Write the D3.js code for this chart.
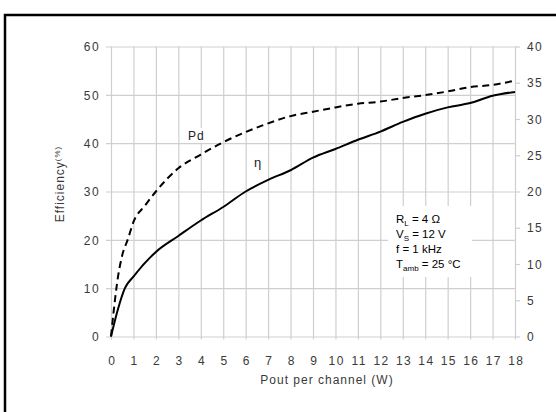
<!DOCTYPE html>
<html>
<head>
<meta charset="utf-8">
<script src="https://cdn.jsdelivr.net/npm/d3@7"></script>
<style>
  html, body { margin: 0; padding: 0; background: #fff; }
  svg { display: block; }
  text { font-family: "Liberation Sans", Arial, sans-serif; }
</style>
</head>
<body>
<svg id="chart" width="556" height="412"></svg>
<script>
// ---- Data ----
const xTicks = [0,1,2,3,4,5,6,7,8,9,10,11,12,13,14,15,16,17,18];
const leftTicks = [0,10,20,30,40,50,60];
const rightTicks = [0,5,10,15,20,25,30,35,40];

// Efficiency (eta), left axis (%)
const effPout = [0, 0.3, 0.62, 1, 2, 3, 4, 5, 6, 7, 8, 9, 10, 11, 12, 13, 14, 15, 16, 17, 18];
const effVal  = [0, 5.5, 10, 12.4, 17.5, 20.8, 24, 26.8, 30, 32.4, 34.4, 37, 38.8, 40.7, 42.4, 44.4, 46.1, 47.4, 48.3, 49.8, 50.6];

// Power dissipation Pd, right axis (W)
const pdPout = [0, 0.12, 0.3, 0.5, 0.75, 1, 1.5, 2, 3, 4, 5, 6, 7, 8, 9, 10, 11, 12, 13, 14, 15, 16, 17, 18];
const pdVal  = [0, 3.5, 8, 11.2, 13.4, 15.8, 18, 20, 23.2, 25.1, 26.8, 28.2, 29.4, 30.4, 31.0, 31.6, 32.1, 32.4, 32.9, 33.3, 33.8, 34.4, 34.7, 35.3];

const legendLines = [
  {main: "R", sub: "L", rest: " = 4 Ω"},
  {main: "V", sub: "S", rest: " = 12 V"},
  {main: "f = 1 kHz", sub: "", rest: ""},
  {main: "T", sub: "amb", rest: " = 25 °C"}
];

// ---- Layout ----
const svg = d3.select("#chart");
const x = d3.scaleLinear().domain([0, 18]).range([111, 515]);
const yL = d3.scaleLinear().domain([0, 60]).range([336.5, 46.5]);
const yR = d3.scaleLinear().domain([0, 40]).range([336.5, 46.5]);

// frame
svg.append("rect").attr("x", 5).attr("y", 15).attr("width", 620).attr("height", 500)
  .attr("fill", "none").attr("stroke", "#000").attr("stroke-width", 2.5);

const gridColor = "#cfcfcf";
const labelColor = "#3a3a3a";

// vertical gridlines (bottom axis with long ticks)
const xAxis = d3.axisBottom(x).tickValues(xTicks).tickSize(0).tickPadding(0);
const gx = svg.append("g").attr("transform", "translate(0,336.5)").call(xAxis);
gx.select(".domain").remove();
gx.selectAll(".tick line").remove();
gx.selectAll(".tick").append("line")
  .attr("y1", 3).attr("y2", yL(60) - 336.5)
  .attr("stroke", gridColor).attr("stroke-width", 1.2);
gx.selectAll(".tick text").attr("y", 28).attr("dy", 0).attr("dx", 0.7)
  .attr("font-size", 12).attr("letter-spacing", 1.4).attr("fill", labelColor);

// left axis gridlines
const yAxisL = d3.axisLeft(yL).tickValues(leftTicks).tickSize(0);
const gl = svg.append("g").attr("transform", "translate(111,0)").call(yAxisL);
gl.select(".domain").remove();
gl.selectAll(".tick line").remove();
gl.selectAll(".tick").append("line")
  .attr("x1", -5).attr("x2", x(18) - 111)
  .attr("stroke", gridColor).attr("stroke-width", 1.2);
gl.selectAll(".tick text").attr("x", -11).attr("dy", "0.35em")
  .attr("font-size", 12).attr("letter-spacing", 1.4).attr("fill", labelColor);

// right axis ticks
const yAxisR = d3.axisRight(yR).tickValues(rightTicks).tickSize(0);
const gr = svg.append("g").attr("transform", "translate(515,0)").call(yAxisR);
gr.select(".domain").remove();
gr.selectAll(".tick line").remove();
gr.selectAll(".tick").append("line")
  .attr("x1", 0).attr("x2", 5)
  .attr("stroke", gridColor).attr("stroke-width", 1.2);
gr.selectAll(".tick text").attr("x", 12).attr("dy", "0.35em")
  .attr("font-size", 12).attr("letter-spacing", 1.4).attr("fill", labelColor);

// legend white box (interrupts grid)
svg.append("rect").attr("x", 388).attr("y", 206).attr("width", 84).attr("height", 71).attr("fill", "#fff");

// curves
const effLine = d3.line()
  .x((d, i) => x(effPout[i])).y(d => yL(d)).curve(d3.curveMonotoneX);
svg.append("path").datum(effVal).attr("d", effLine)
  .attr("fill", "none").attr("stroke", "#000").attr("stroke-width", 2);

const pdLine = d3.line()
  .x((d, i) => x(pdPout[i])).y(d => yR(d)).curve(d3.curveMonotoneX);
svg.append("path").datum(pdVal).attr("d", pdLine)
  .attr("fill", "none").attr("stroke", "#000").attr("stroke-width", 2)
  .attr("stroke-dasharray", "7,4.5");

// curve labels
svg.append("rect").attr("x", 185).attr("y", 128).attr("width", 24).attr("height", 15).attr("fill", "#fff");
svg.append("text").attr("x", 188).attr("y", 140).attr("font-size", 12).attr("letter-spacing", 1)
  .attr("fill", "#222").text("Pd");
svg.append("text").attr("x", 254).attr("y", 167).attr("font-size", 13).attr("fill", "#222").text("η");

// legend text
const lg = svg.append("g").attr("font-size", 11.5).attr("fill", "#000");
legendLines.forEach((l, i) => {
  const t = lg.append("text").attr("x", 396).attr("y", 222.5 + i * 15.2);
  t.append("tspan").text(l.main);
  if (l.sub) t.append("tspan").attr("font-size", 8).attr("dy", 3).text(l.sub);
  if (l.rest) t.append("tspan").attr("dy", l.sub ? -3 : 0).text(l.rest);
});

// axis titles
svg.append("text").attr("x", 327).attr("y", 384).attr("text-anchor", "middle")
  .attr("font-size", 12).attr("letter-spacing", 1).attr("fill", labelColor).text("Pout per channel (W)");

const yt = svg.append("text")
  .attr("transform", "translate(64,184) rotate(-90)")
  .attr("text-anchor", "middle").attr("font-size", 12).attr("letter-spacing", 1).attr("fill", labelColor);
yt.append("tspan").text("Efficiency");
yt.append("tspan").attr("font-size", 8).attr("dy", -4).text("(%)");
</script>
</body>
</html>
